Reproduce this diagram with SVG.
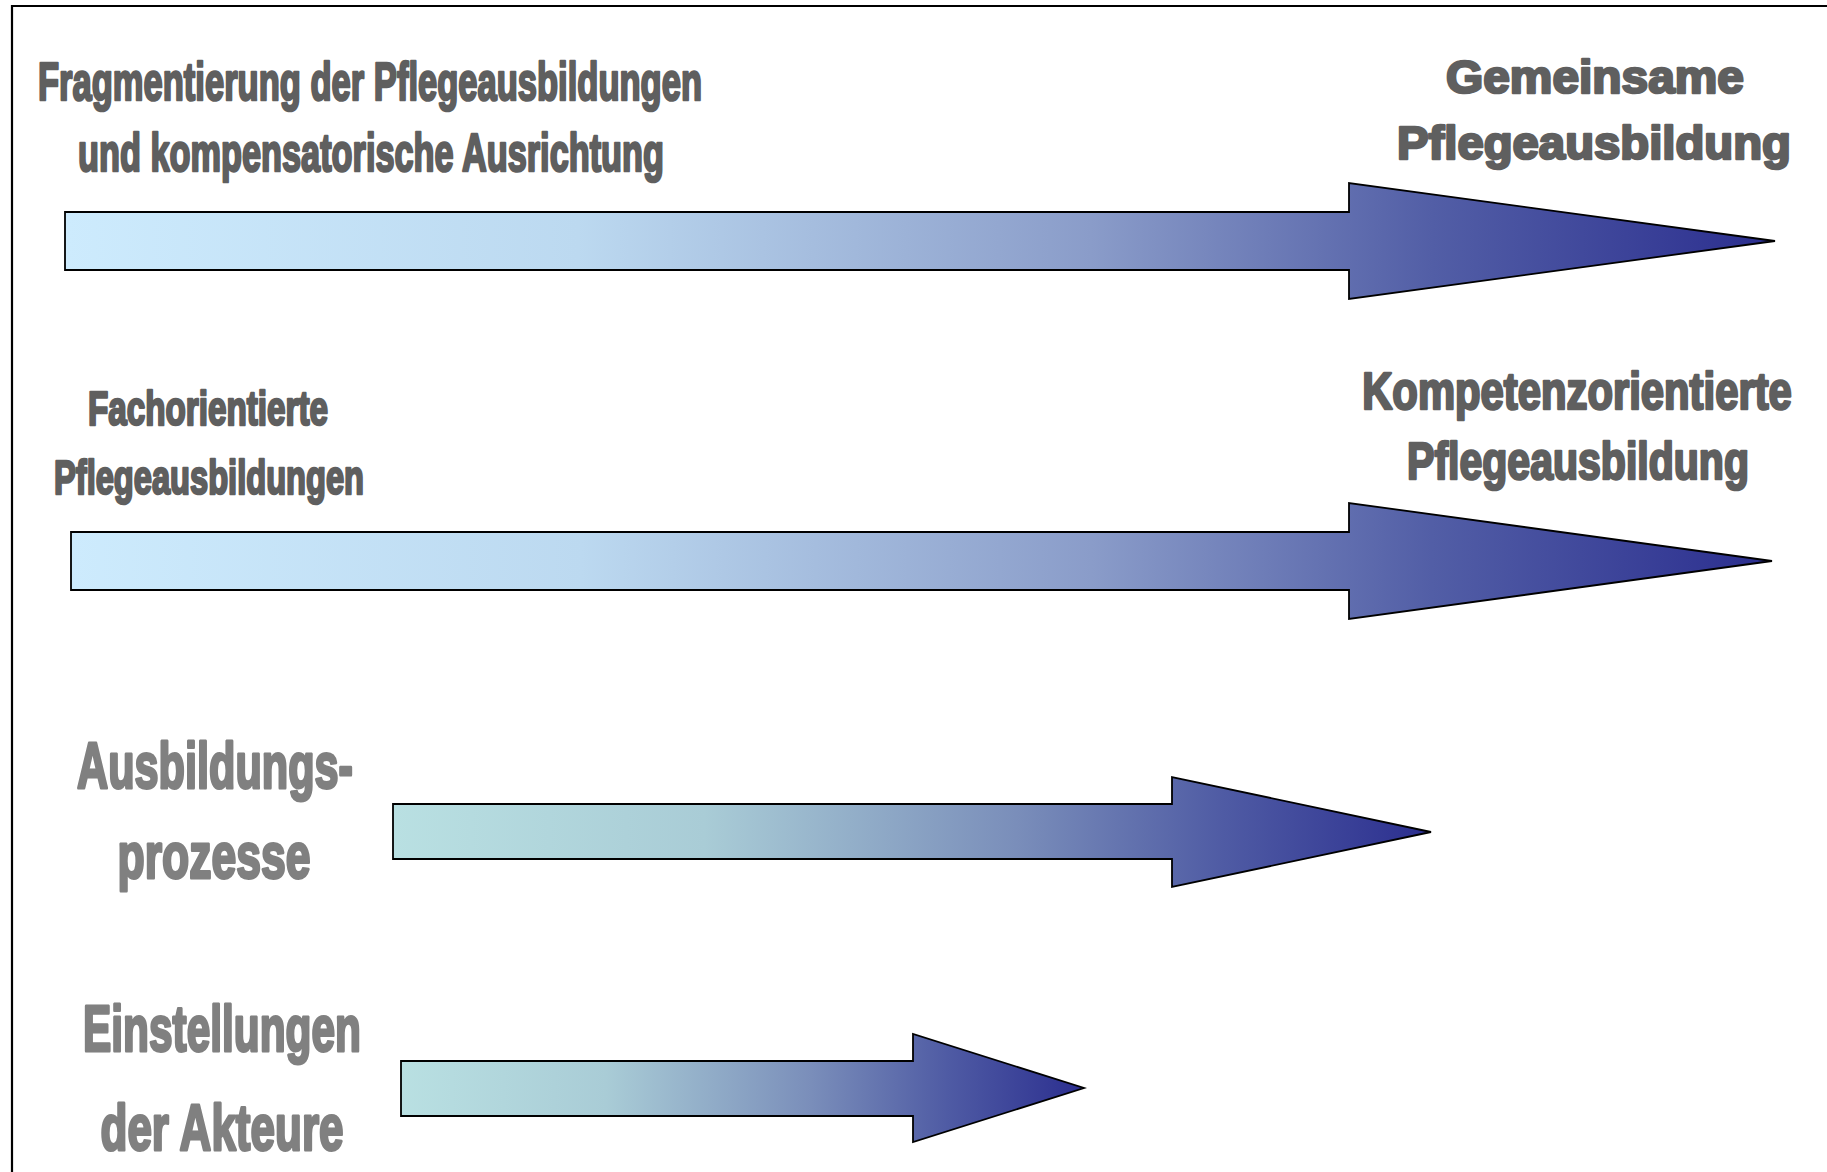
<svg xmlns="http://www.w3.org/2000/svg" width="1827" height="1172" viewBox="0 0 1827 1172">
<defs>
<linearGradient id="gBlue" x1="0" y1="0" x2="1" y2="0">
<stop offset="0" stop-color="#CDEBFD"/>
<stop offset="0.3" stop-color="#BCD9F0"/>
<stop offset="0.6" stop-color="#8A9CC9"/>
<stop offset="0.8" stop-color="#525EA6"/>
<stop offset="1" stop-color="#2B2E8F"/>
</linearGradient>
<linearGradient id="gTeal" x1="0" y1="0" x2="1" y2="0">
<stop offset="0" stop-color="#B9E0E2"/>
<stop offset="0.3" stop-color="#A9CCD6"/>
<stop offset="0.6" stop-color="#7A8EBA"/>
<stop offset="0.8" stop-color="#4F5BA4"/>
<stop offset="1" stop-color="#2B2E8F"/>
</linearGradient>
<style>
.arrow{stroke:#000;stroke-width:1.8;stroke-linejoin:miter}
.t{font-family:"Liberation Sans",Arial,sans-serif;font-weight:bold;text-anchor:middle;stroke-linejoin:round}
.dark{fill:#5f5f5f;stroke:#5f5f5f;stroke-width:2.6}
.light{fill:#808080;stroke:#808080;stroke-width:3}
</style>
</defs>
<rect width="1827" height="1172" fill="#fff"/>
<path d="M12,1172 V6 H1827" fill="none" stroke="#000" stroke-width="2.2"/>

<g id="connectors">
<polygon id="arrow1" class="arrow" fill="url(#gBlue)" points="65,212 1349,212 1349,183 1775,241 1349,299 1349,270 65,270"/>
<polygon id="arrow2" class="arrow" fill="url(#gBlue)" points="71,532 1349,532 1349,503 1772,561 1349,619 1349,590 71,590"/>
<polygon id="arrow3" class="arrow" fill="url(#gTeal)" points="393,804 1172,804 1172,777 1431,832 1172,887 1172,859 393,859"/>
<polygon id="arrow4" class="arrow" fill="url(#gTeal)" points="401,1061 913,1061 913,1034 1084,1088 913,1142 913,1116 401,1116"/>
</g>

<g id="label-fragmentierung">
<text class="t dark" x="370" y="100" font-size="53" textLength="664" lengthAdjust="spacingAndGlyphs">Fragmentierung der Pflegeausbildungen</text>
<text class="t dark" x="371" y="171" font-size="53" textLength="586" lengthAdjust="spacingAndGlyphs">und kompensatorische Ausrichtung</text>
</g>

<g id="label-gemeinsame">
<text class="t dark" x="1595" y="93" font-size="47" textLength="298" lengthAdjust="spacingAndGlyphs">Gemeinsame</text>
<text class="t dark" x="1594" y="159" font-size="47" textLength="394" lengthAdjust="spacingAndGlyphs">Pflegeausbildung</text>
</g>

<g id="label-fachorientierte">
<text class="t dark" x="208" y="425" font-size="48" textLength="240" lengthAdjust="spacingAndGlyphs">Fachorientierte</text>
<text class="t dark" x="209" y="494" font-size="48" textLength="310" lengthAdjust="spacingAndGlyphs">Pflegeausbildungen</text>
</g>

<g id="label-kompetenz">
<text class="t dark" transform="translate(1577,409) scale(0.82,1)" x="0" y="0" font-size="51" textLength="524" lengthAdjust="spacingAndGlyphs">Kompetenzorientierte</text>
<text class="t dark" transform="translate(1578,479) scale(0.82,1)" x="0" y="0" font-size="51" textLength="417" lengthAdjust="spacingAndGlyphs">Pflegeausbildung</text>
</g>

<g id="label-ausbildungsprozesse">
<text class="t light" x="215" y="788" font-size="64" textLength="276" lengthAdjust="spacingAndGlyphs">Ausbildungs-</text>
<text class="t light" x="214" y="878" font-size="64" textLength="193" lengthAdjust="spacingAndGlyphs">prozesse</text>
</g>

<g id="label-einstellungen">
<text class="t light" x="222" y="1051" font-size="64" textLength="278" lengthAdjust="spacingAndGlyphs">Einstellungen</text>
<text class="t light" x="222" y="1150" font-size="64" textLength="243" lengthAdjust="spacingAndGlyphs">der Akteure</text>
</g>
</svg>
